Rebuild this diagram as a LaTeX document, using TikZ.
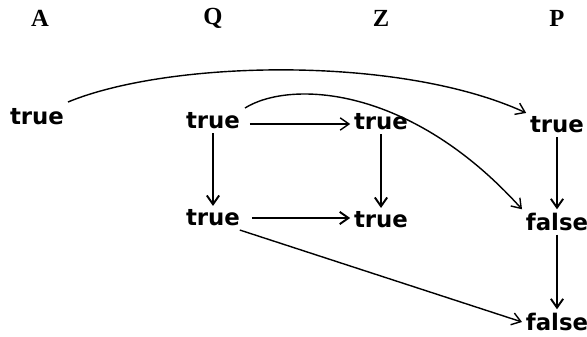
\documentclass[tikz,border=0pt]{standalone}
\usepackage{fontspec}
\newfontfamily\valfont{DejaVu Sans}
\newfontfamily\hdrfont{Liberation Serif}
\usetikzlibrary{arrows.meta}
\begin{document}
\begin{tikzpicture}[x=0.02cm,y=-0.02cm,
  val/.style={font=\valfont\bfseries\fontsize{13}{15}\selectfont, inner sep=2pt},
  hdr/.style={font=\hdrfont\bfseries\fontsize{14}{16}\selectfont, inner sep=1pt},
  arr/.style={-{Straight Barb[length=5pt,width=7pt]}, line width=0.8pt},
  varr/.style={arr, line width=1.1pt}]
\useasboundingbox (0,0) rectangle (587,337);
\node[hdr] (hA) at (40,18) {A};
\node[hdr] (hQ) at (213,18) {Q};
\node[hdr] (hZ) at (381,18) {Z};
\node[hdr] (hP) at (557,18) {P};
\node[val] (a1) at (37,117) {true};
\node[val] (q1) at (213,121) {true};
\node[val] (z1) at (381,122) {true};
\node[val] (p1) at (557,125) {true};
\node[val] (q2) at (213,218) {true};
\node[val] (z2) at (381,220) {true};
\node[val] (p2) at (557,222) {false};
\node[val] (p3) at (557,322) {false};
\draw[arr] (68,102) .. controls (170,60) and (400,55) .. (p1.north west);
\draw[arr] (q1.east) ++(6,3) coordinate (qs) -- (qs -| z1.west);
\draw[arr] (245,108) .. controls (290,80) and (410,85) .. (p2.north west);
\draw[varr] (q1.south) -- (q2.north);
\draw[varr] (z1.south) -- (z2.north);
\draw[varr] (p1.south) -- (p2.north);
\draw[varr] (q2.east) ++(8,0) coordinate (q2s) -- (q2s -| z2.west);
\draw[arr] (q2.south east) ++(-4,0) coordinate (q2d) -- (p3.west);
\draw[varr] (p2.south) -- (p3.north);
\end{tikzpicture}
\end{document}
